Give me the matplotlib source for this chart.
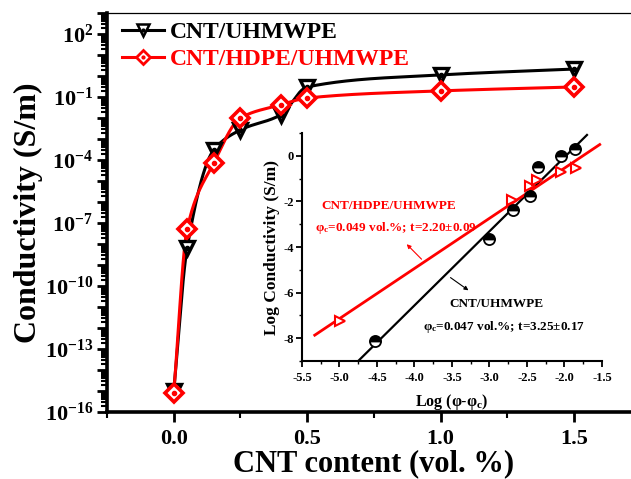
import numpy as np
import matplotlib
matplotlib.use("Agg")
import matplotlib.pyplot as plt
from matplotlib.lines import Line2D
from matplotlib.ticker import FixedLocator, FuncFormatter, LogLocator, MultipleLocator, NullFormatter

# main chart data: conductivity vs CNT content
cnt_content = [0.0, 0.05, 0.15, 0.25, 0.4, 0.5, 1.0, 1.5]
cond_uhmwpe = [1.0e-15, 6.3e-9, 3.0e-4, 2.7e-3, 1.4e-2, 0.30, 1.12, 2.14]
cond_hdpe_uhmwpe = [7.9e-16, 5.1e-8, 7.2e-5, 1.0e-2, 4.2e-2, 8.9e-2, 0.195, 0.30]

# inset: log-log percolation fit
inset_x_uhmwpe = [-4.53, -3.00, -2.69, -2.46, -2.35, -2.04, -1.86]
inset_y_uhmwpe = [-8.11, -3.67, -2.39, -1.75, -0.47, 0.01, 0.29]
inset_x_hdpe = [-4.99, -2.70, -2.46, -2.37, -2.04, -1.85]
inset_y_hdpe = [-7.24, -1.95, -1.31, -1.05, -0.69, -0.54]

# fit lines (slope = t, intercept), and x range drawn
fit_uhmwpe = (3.25, 6.44, -4.75, -1.70)
fit_hdpe = (2.20, 3.86, -5.33, -1.53)

plt.rcParams['font.family'] = ['Liberation Serif', 'DejaVu Serif']
plt.rcParams['font.weight'] = 'bold'
plt.rcParams['mathtext.fontset'] = 'custom'
plt.rcParams['mathtext.rm'] = 'Liberation Serif:bold'
plt.rcParams['mathtext.it'] = 'Liberation Serif:bold:italic'
plt.rcParams['mathtext.bf'] = 'Liberation Serif:bold'


def pchip(x, y, xs):
    # monotone cubic through the points, so the curve looks like the origin spline
    x = np.asarray(x, float)
    y = np.asarray(y, float)
    h = np.diff(x)
    d = np.diff(y) / h
    n = len(x)
    m = np.zeros(n)
    m[0] = d[0]
    m[-1] = d[-1]
    for k in range(1, n - 1):
        if d[k - 1] * d[k] <= 0:
            m[k] = 0
        else:
            w1 = 2 * h[k] + h[k - 1]
            w2 = h[k] + 2 * h[k - 1]
            m[k] = (w1 + w2) / (w1 / d[k - 1] + w2 / d[k])
    idx = np.clip(np.searchsorted(x, xs) - 1, 0, n - 2)
    t = (xs - x[idx]) / h[idx]
    h00 = 2 * t**3 - 3 * t**2 + 1
    h10 = t**3 - 2 * t**2 + t
    h01 = -2 * t**3 + 3 * t**2
    h11 = t**3 - t**2
    return h00 * y[idx] + h10 * h[idx] * m[idx] + h01 * y[idx + 1] + h11 * h[idx] * m[idx + 1]


fig = plt.figure(figsize=(6.31, 4.79), dpi=100)
ax = fig.add_axes([0.1696, 0.1399, 0.846, 0.833])

xs = np.linspace(cnt_content[0], cnt_content[-1], 600)
ax.plot(xs, 10 ** pchip(cnt_content, np.log10(cond_uhmwpe), xs), color='black', lw=2.2, zorder=2)
ax.plot(xs, 10 ** pchip(cnt_content, np.log10(cond_hdpe_uhmwpe), xs), color='red', lw=2.2, zorder=3)

ax.plot(cnt_content, cond_uhmwpe, ls='none', marker='v', ms=10, mfc='white', mec='black', mew=2.4, zorder=4)
ax.plot(cnt_content, cond_uhmwpe, ls='none', marker='o', ms=3, color='black', zorder=5)
ax.plot(cnt_content, cond_hdpe_uhmwpe, ls='none', marker='D', ms=9.5, mfc='white', mec='red', mew=2.6, zorder=6)
ax.plot(cnt_content, cond_hdpe_uhmwpe, ls='none', marker='o', ms=3, color='red', zorder=7)

ax.set_yscale('log')
ax.set_xlim(-0.25, 1.75)
ax.set_ylim(1e-16, 1e3)

ax.xaxis.set_major_locator(MultipleLocator(0.5))
ax.xaxis.set_minor_locator(MultipleLocator(0.25))
ax.xaxis.set_major_formatter(FuncFormatter(lambda v, p: f"{v:.1f}"))
ax.yaxis.set_major_locator(FixedLocator(10.0 ** np.arange(-16, 4)))
ax.yaxis.set_major_formatter(FuncFormatter(
    lambda v, p: r'$\mathregular{10^{%d}}$' % round(np.log10(v)) if round(np.log10(v)) % 3 == 2 else ''))
ax.yaxis.set_minor_locator(LogLocator(base=10, subs=np.arange(2, 10), numticks=40))
ax.yaxis.set_minor_formatter(NullFormatter())

ax.tick_params(axis='both', which='major', direction='out', length=7, width=2, labelsize=16, pad=3)
ax.tick_params(axis='both', which='minor', direction='out', length=4, width=1.5)
ax.tick_params(axis='x', which='major', pad=5)
for lab in ax.get_xticklabels() + ax.get_yticklabels():
    lab.set_fontweight('bold')

ax.spines['left'].set_linewidth(2.6)
ax.spines['bottom'].set_linewidth(2.6)
ax.spines['top'].set_linewidth(0.9)
ax.spines['right'].set_visible(False)

ax.set_xlabel("CNT content (vol. %)", fontsize=22, fontweight='bold', labelpad=0.5)
ax.set_ylabel("Conductivity (S/m)", fontsize=23, fontweight='bold', labelpad=1)

# legend with the dotted marker look
h1 = (Line2D([], [], color='black', lw=2.2, marker='v', ms=8, mfc='white', mec='black', mew=1.8),
      Line2D([], [], ls='none', marker='o', ms=2, color='black'))
h2 = (Line2D([], [], color='red', lw=2.2, marker='D', ms=7, mfc='white', mec='red', mew=2),
      Line2D([], [], ls='none', marker='o', ms=2, color='red'))
leg = fig.legend([h1, h2], ["CNT/UHMWPE", "CNT/HDPE/UHMWPE"], loc='upper left',
                 bbox_to_anchor=(0.193, 0.955), frameon=False, fontsize=17,
                 handlelength=1.8, handletextpad=0.25, labelspacing=0.22, borderpad=0, borderaxespad=0)
for txt, c in zip(leg.get_texts(), ['black', 'red']):
    txt.set_color(c)
    txt.set_fontweight('bold')

# inset
ins = fig.add_axes([0.4786, 0.2463, 0.4754, 0.476])
ins.set_facecolor('white')
slope, icpt, x0, x1 = fit_uhmwpe
fx = np.array([x0, x1])
ins.plot(fx, slope * fx + icpt, color='black', lw=1.6, zorder=2)
slope, icpt, x0, x1 = fit_hdpe
fx = np.array([x0, x1])
ins.plot(fx, slope * fx + icpt, color='red', lw=2.0, zorder=3)

ins.plot(inset_x_uhmwpe, inset_y_uhmwpe, ls='none', marker='o', ms=8, fillstyle='top',
         mfc='black', mfcalt='white', mec='black', mew=1.3, zorder=4)
ins.plot(inset_x_hdpe, inset_y_hdpe, ls='none', marker='>', ms=7.5, mfc='white', mec='red', mew=1.5, zorder=5)

ins.set_xlim(-5.5, -1.5)
ins.set_ylim(-9, 1)
ins.xaxis.set_major_locator(MultipleLocator(0.5))
ins.xaxis.set_minor_locator(MultipleLocator(0.25))
ins.yaxis.set_major_locator(MultipleLocator(2))
ins.yaxis.set_minor_locator(MultipleLocator(1))
ins.xaxis.set_major_formatter(FuncFormatter(lambda v, p: f"{v:.1f}"))
ins.yaxis.set_major_formatter(FuncFormatter(lambda v, p: f"{v:.0f}" if v <= 0 else ''))
ins.tick_params(axis='both', which='major', direction='out', length=4, width=1.3, labelsize=9, pad=2)
ins.tick_params(axis='both', which='minor', direction='out', length=2.5, width=1)
ins.tick_params(axis='x', which='major', pad=4)
for lab in ins.get_xticklabels() + ins.get_yticklabels():
    lab.set_fontweight('bold')
ins.spines['top'].set_visible(False)
ins.spines['right'].set_visible(False)
ins.spines['left'].set_linewidth(1.5)
ins.spines['bottom'].set_linewidth(1.5)
ins.set_xlabel(r"Log ($\mathregular{\varphi}$-$\mathregular{\varphi_c}$)", fontsize=11.5, fontweight='bold', labelpad=6)
ins.set_ylabel("Log Conductivity (S/m)", fontsize=12.5, fontweight='bold', labelpad=2)

ins.text(-5.24, -2.33, "CNT/HDPE/UHMWPE", color='red', fontsize=9.5, fontweight='bold')
ins.text(-5.33, -3.31, r"φ$_\mathregular{c}$=0.049 vol.%; t=2.20±0.09", color='red', fontsize=9.5, fontweight='bold')
ins.text(-3.53, -6.65, "CNT/UHMWPE", color='black', fontsize=9.5, fontweight='bold')
ins.text(-3.89, -7.64, r"φ$_\mathregular{c}$=0.047 vol.%; t=3.25±0.17", color='black', fontsize=9.5, fontweight='bold')
ins.annotate("", xy=(-4.13, -3.79), xytext=(-3.88, -4.62),
             arrowprops=dict(arrowstyle='-|>', color='red', lw=0.8, mutation_scale=6))
ins.annotate("", xy=(-3.25, -5.97), xytext=(-3.55, -5.27),
             arrowprops=dict(arrowstyle='-|>', color='black', lw=0.8, mutation_scale=6))

fig.savefig("out.png", dpi=100)
